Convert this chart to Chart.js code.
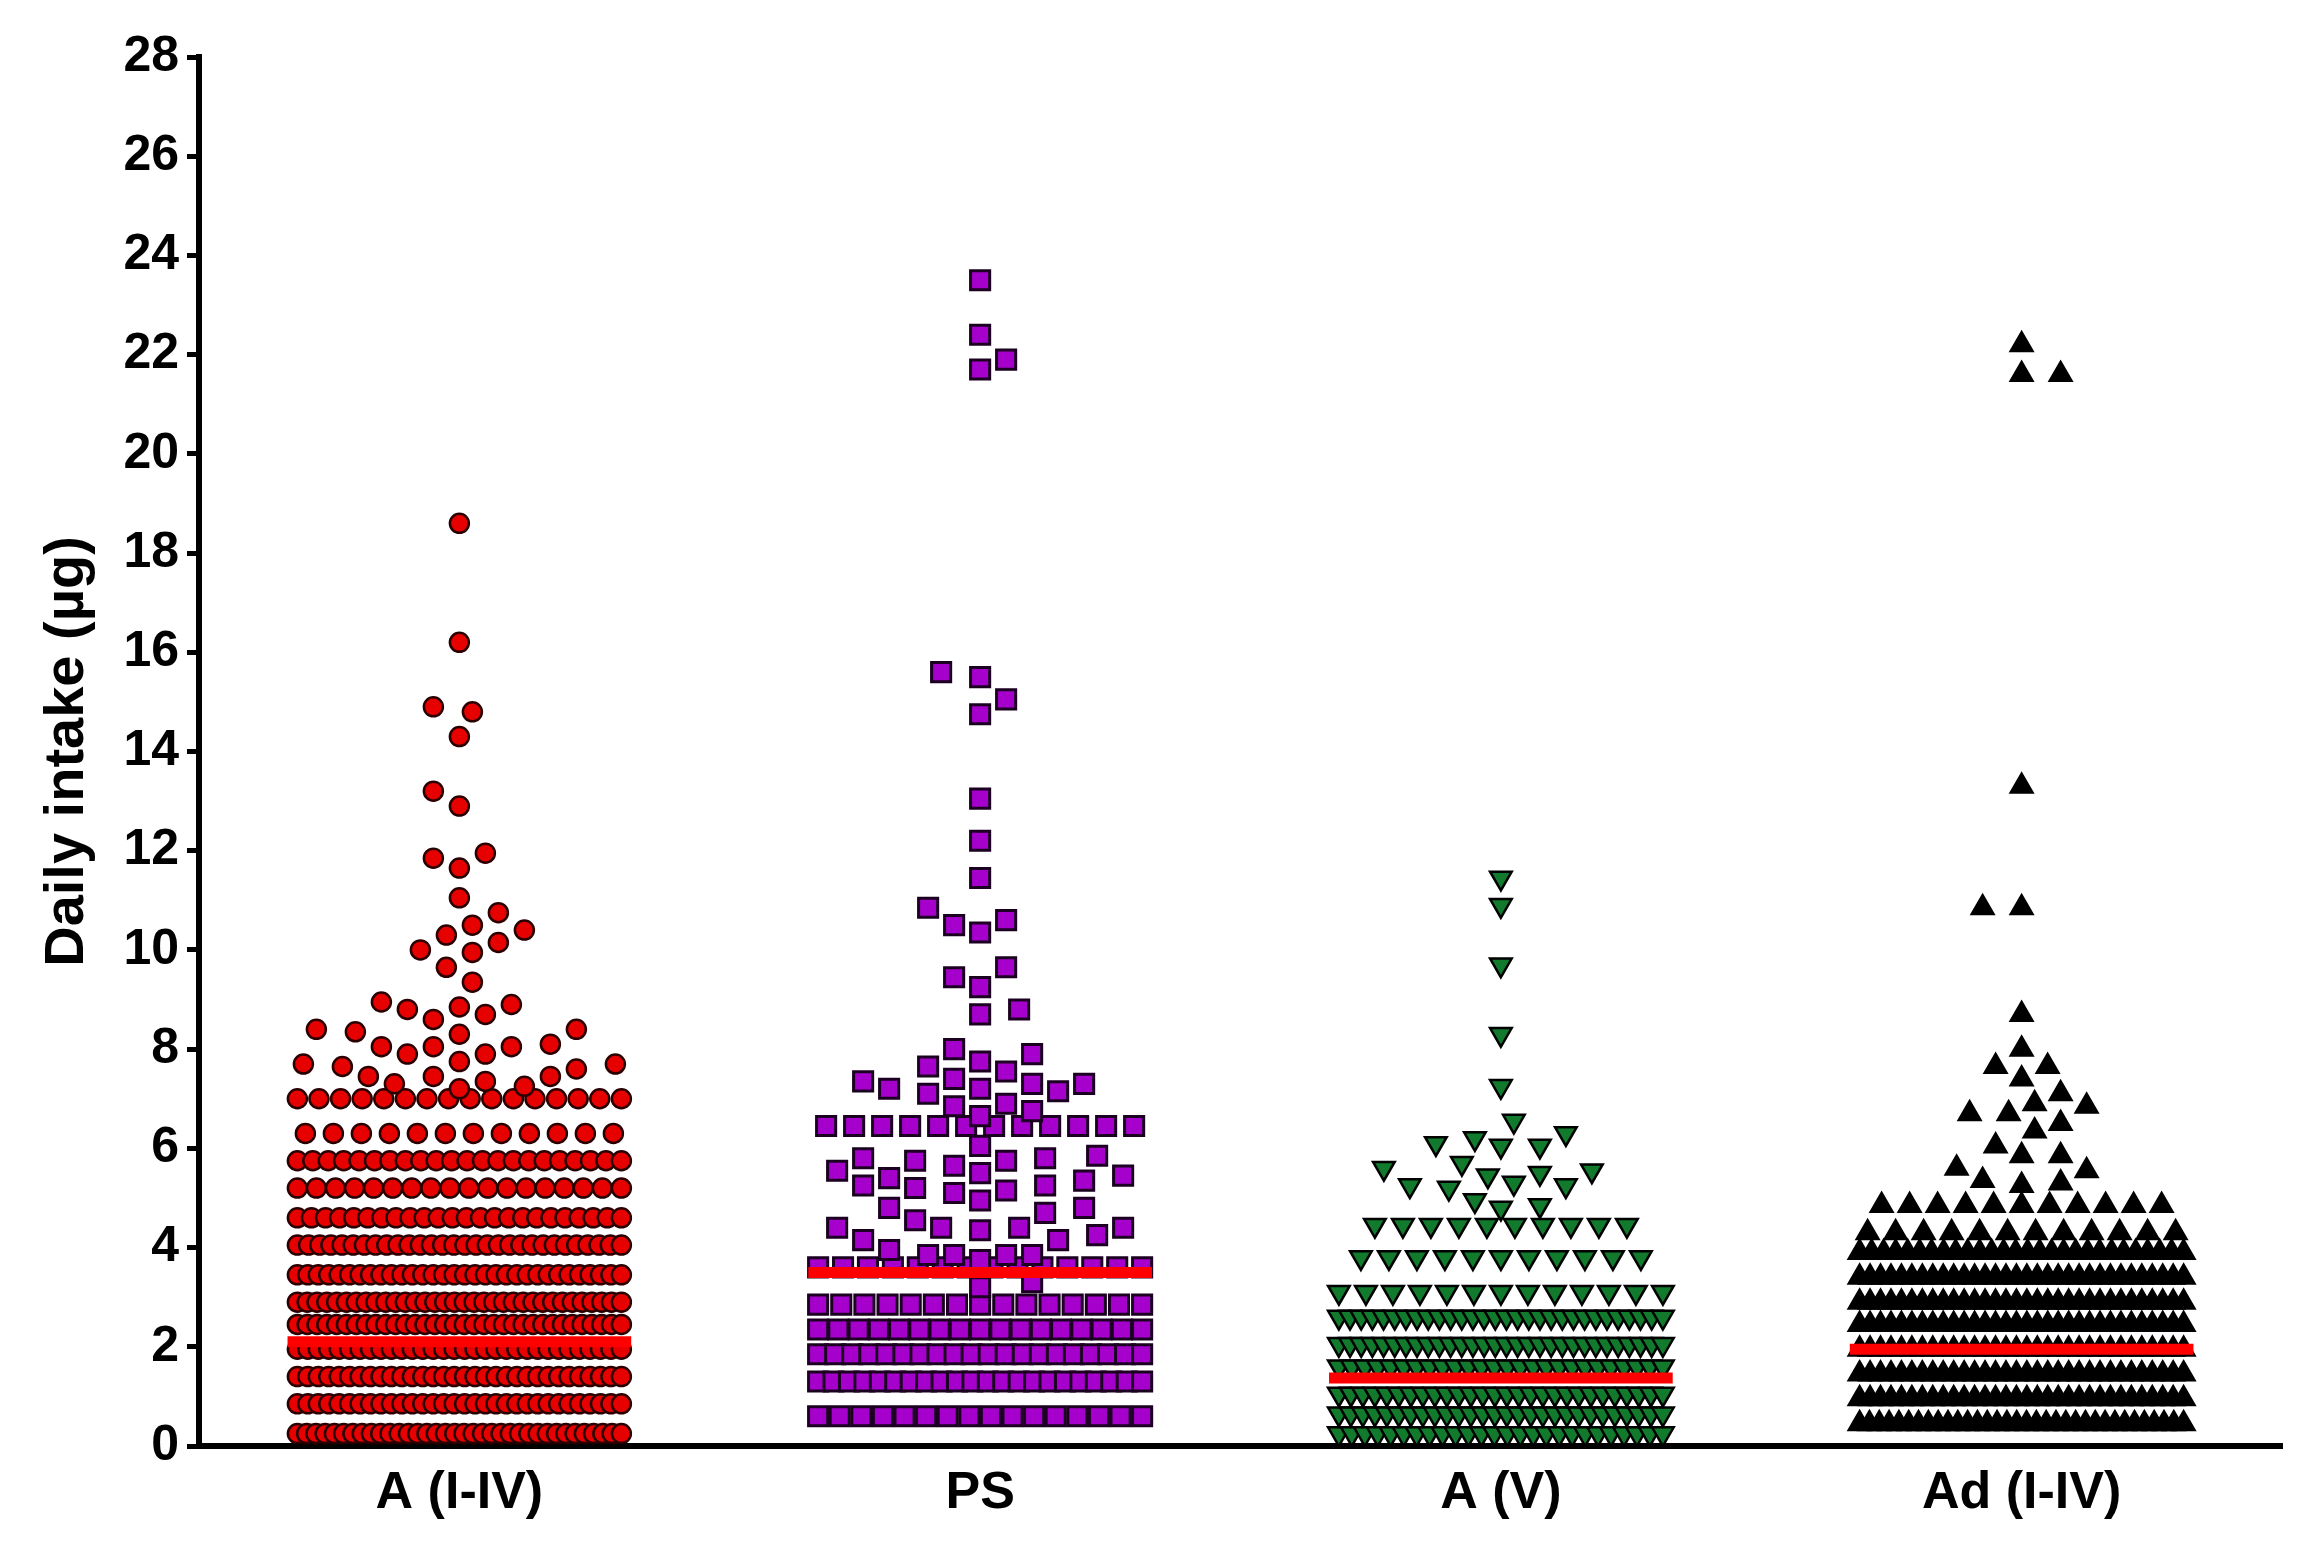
<!DOCTYPE html>
<html>
<head>
<meta charset="utf-8">
<script src="https://cdn.jsdelivr.net/npm/chart.js@4.4.1/dist/chart.umd.min.js"></script>
<style>
  html, body { margin: 0; padding: 0; background: #fff; }
  #wrap { width: 2304px; height: 1544px; }
</style>
</head>
<body>
<div id="wrap"><canvas id="chart" width="2304" height="1544"></canvas></div>
<script>
// ── Data ─────────────────────────────────────────────────────────────────────
const groups = ['A (I-IV)', 'PS', 'A (V)', 'Ad (I-IV)'];
const yTicks = [0, 2, 4, 6, 8, 10, 12, 14, 16, 18, 20, 22, 24, 26, 28];

const aRowLevels = [0.25, 0.85, 1.4, 1.95, 2.45, 2.9, 3.45, 4.05, 4.6, 5.2, 5.75, 6.3, 7.0];
const aRowCounts = [36, 32, 32, 32, 34, 34, 32, 30, 24, 18, 22, 12, 16];
// loose markers above the rows
const aPoints = [7.2, 7.25, 7.3, 7.35, 7.45, 7.45, 7.45, 7.6, 7.65, 7.7, 7.7, 7.75, 7.9, 7.9,
  8.05, 8.05, 8.05, 8.1, 8.3, 8.35, 8.4, 8.4, 8.6, 8.7, 8.8, 8.85, 8.9, 8.95, 9.35, 9.65,
  9.95, 10.0, 10.15, 10.3, 10.4, 10.5, 10.75, 11.05, 11.65, 11.85, 11.95, 12.9, 13.2,
  14.3, 14.8, 14.9, 16.2, 18.6];

const psRowLevels = [0.6, 1.3, 1.85, 2.35, 2.85, 3.6, 6.45];
const psRowCounts = [16, 22, 20, 17, 15, 14, 12];
const psPoints = [3.2, 3.3, 3.75, 3.85, 3.85, 3.85, 3.85, 3.95, 4.15, 4.15, 4.25, 4.35,
  4.4, 4.4, 4.4, 4.4, 4.55, 4.7, 4.8, 4.8, 4.95, 5.1, 5.15, 5.2, 5.25, 5.25, 5.35, 5.4,
  5.45, 5.5, 5.55, 5.65, 5.75, 5.75, 5.8, 5.8, 5.85, 6.05, 6.65, 6.75, 6.85, 6.9, 7.1,
  7.15, 7.2, 7.2, 7.3, 7.3, 7.35, 7.4, 7.55, 7.65, 7.75, 7.9, 8.0, 8.7, 8.8, 9.25, 9.45,
  9.65, 10.35, 10.5, 10.6, 10.85, 11.45, 12.2, 13.05, 14.75, 15.05, 15.5, 15.6, 21.7,
  21.9, 22.4, 23.5];

const avRowLevels = [0.25, 0.65, 1.05, 1.6, 2.05, 2.6, 3.1, 3.8, 4.45];
const avRowCounts = [26, 28, 28, 26, 30, 30, 13, 11, 10];
const avPoints = [4.8, 4.85, 4.95, 5.2, 5.25, 5.25, 5.3, 5.45, 5.5, 5.55, 5.6, 5.7, 6.05,
  6.05, 6.1, 6.2, 6.3, 6.55, 7.25, 8.3, 9.7, 10.9, 11.45];

const adRowLevels = [0.45, 0.95, 1.45, 1.95, 2.45, 2.9, 3.4, 3.9, 4.3, 4.85];
const adRowCounts = [34, 32, 32, 32, 32, 32, 32, 28, 12, 11];
const adPoints = [5.25, 5.3, 5.35, 5.55, 5.6, 5.85, 5.85, 6.05, 6.35, 6.5, 6.7, 6.7, 6.85,
  6.9, 7.1, 7.4, 7.65, 7.65, 8.0, 8.7, 10.85, 10.85, 13.3, 21.6, 21.6, 22.2];

// horizontal red bar per group
const medians = [2.1, 3.5, 1.37, 1.95];

// ── Plot box (canvas px) ────────────────────────────────────────────────────
const PLOT = { left: 199, right: 2282, top: 57, bottom: 1446 };
const PX_X = (PLOT.right - PLOT.left) / groups.length;        // px per category
const PX_Y = (PLOT.bottom - PLOT.top) / yTicks[yTicks.length - 1];

// ── Swarm layout ─────────────────────────────────────────────────────────────
const STEP_PX = 28;    // gap between neighbours in a packed row
const HALF_PX = 162;   // widest half spread
const SLOT_PX = 13;    // candidate step for loose markers
const GAP_PT  = 27;    // loose marker vs loose marker
const GAP_ROW = 17;    // loose marker vs packed row marker
const BAR_HALF = 0.33;

function swarm(rowLevels, rowCounts, points, gi) {
  const placed = [];
  rowLevels.forEach((v, i) => {
    const n = rowCounts[i];
    const gap = n > 1 ? Math.min(STEP_PX, 2 * HALF_PX / (n - 1)) : 0;
    for (let k = 0; k < n; k++) placed.push({ dx: (k - (n - 1) / 2) * gap, py: v * PX_Y, v, row: true });
  });

  let flip = 1;
  points.slice().sort((a, b) => a - b).forEach(v => {
    const py = v * PX_Y;
    let best = 0, bestScore = -1, done = false;
    for (let k = 0; k * SLOT_PX <= HALF_PX && !done; k++) {
      const cands = k === 0 ? [0] : [flip * k * SLOT_PX, -flip * k * SLOT_PX];
      for (const dx of cands) {
        let score = Infinity;
        for (const p of placed) {
          const d = Math.hypot(dx - p.dx, py - p.py) / (p.row ? GAP_ROW : GAP_PT);
          if (d < score) score = d;
        }
        if (score >= 1) { best = dx; done = true; break; }
        if (score > bestScore) { bestScore = score; best = dx; }
      }
    }
    if (best !== 0) flip = -flip;
    placed.push({ dx: best, py, v, row: false });
  });

  return placed.map(p => ({ x: gi + p.dx / PX_X, y: p.v }));
}

// ── Datasets ─────────────────────────────────────────────────────────────────
const markerSets = [
  { rows: aRowLevels,  counts: aRowCounts,  pts: aPoints,  style: 'circle',   r: 9.5,  rot: 0,   bg: '#e60000', bd: '#2a0000', bw: 2.5 },
  { rows: psRowLevels, counts: psRowCounts, pts: psPoints, style: 'rect',     r: 13.5, rot: 0,   bg: '#a600cc', bd: '#1c0022', bw: 3 },
  { rows: avRowLevels, counts: avRowCounts, pts: avPoints, style: 'triangle', r: 12.5, rot: 180, bg: '#127a2c', bd: '#000000', bw: 2.5 },
  { rows: adRowLevels, counts: adRowCounts, pts: adPoints, style: 'triangle', r: 13,   rot: 0,   bg: '#000000', bd: '#000000', bw: 2 },
];

const datasets = [];

medians.forEach((m, gi) => {
  datasets.push({
    type: 'line',
    data: [{ x: gi - BAR_HALF, y: m }, { x: gi + BAR_HALF, y: m }],
    borderColor: '#ff0000',
    borderWidth: 11,
    borderCapStyle: 'butt',
    pointRadius: 0,
    showLine: true,
    fill: false,
    clip: false,
    order: 1
  });
});

markerSets.forEach((s, gi) => {
  datasets.push({
    type: 'scatter',
    data: swarm(s.rows, s.counts, s.pts, gi),
    pointStyle: s.style,
    pointRadius: s.r,
    pointRotation: s.rot,
    pointBackgroundColor: s.bg,
    pointBorderColor: s.bd,
    pointBorderWidth: s.bw,
    clip: false,
    order: 2
  });
});

// ── Chart ────────────────────────────────────────────────────────────────────
const FONT = "'Liberation Sans', Arial, Helvetica, sans-serif";

new Chart(document.getElementById('chart'), {
  type: 'scatter',
  data: { datasets },
  options: {
    responsive: false,
    devicePixelRatio: 1,
    animation: false,
    events: [],
    layout: { padding: { left: 0, right: 2304 - PLOT.right, top: PLOT.top, bottom: 0 } },
    plugins: { legend: { display: false }, tooltip: { enabled: false } },
    scales: {
      x: {
        type: 'linear',
        min: -0.5,
        max: groups.length - 0.5,
        afterBuildTicks: s => { s.ticks = groups.map((_, i) => ({ value: i })); },
        afterFit: s => { s.height = 1544 - PLOT.bottom; },
        ticks: {
          callback: v => groups[Math.round(v)],
          autoSkip: false,
          maxRotation: 0,
          color: '#000',
          padding: 16,
          font: { family: FONT, size: 52, weight: 'bold' }
        },
        grid: { display: false, drawTicks: false },
        border: { display: true, color: '#000', width: 6 }
      },
      y: {
        type: 'linear',
        min: 0,
        max: 28,
        afterBuildTicks: s => { s.ticks = yTicks.map(v => ({ value: v })); },
        afterFit: s => { s.width = PLOT.left; },
        ticks: {
          color: '#000',
          padding: 8,
          font: { family: FONT, size: 50, weight: 'bold' }
        },
        grid: { drawOnChartArea: false, drawTicks: true, tickLength: 12, color: '#000', lineWidth: 5 },
        border: { display: true, color: '#000', width: 6 },
        title: {
          display: true,
          text: 'Daily intake (µg)',
          color: '#000',
          padding: { top: 34, bottom: 0 },
          font: { family: FONT, size: 56, weight: 'bold' }
        }
      }
    }
  }
});
</script>
</body>
</html>
